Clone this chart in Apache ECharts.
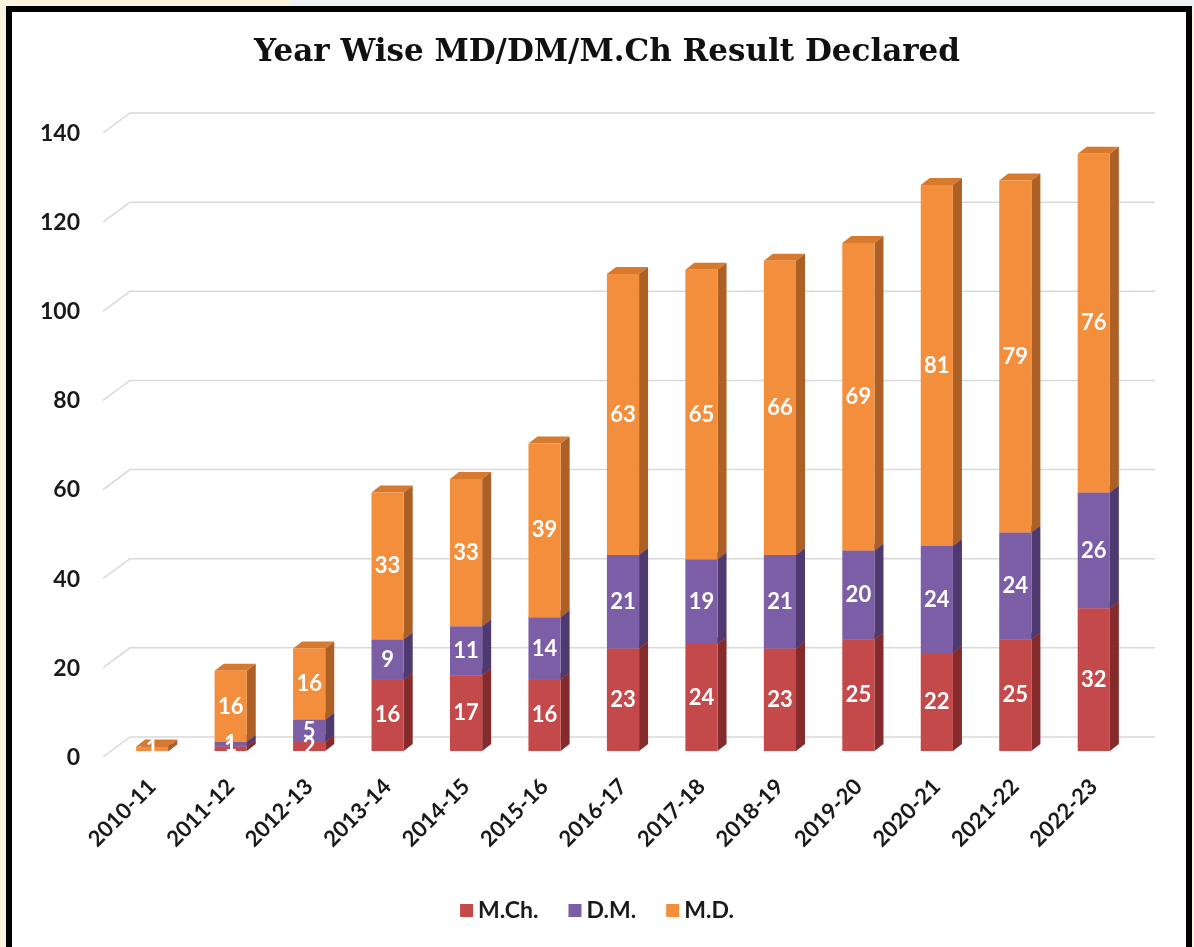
<!DOCTYPE html>
<html>
<head>
<meta charset="utf-8">
<script src="https://cdn.jsdelivr.net/npm/echarts@6/dist/echarts.min.js"></script>
<style>
  html, body { margin: 0; padding: 0; background: #fbf1df; }
  #chart { width: 1194px; height: 947px; }
</style>
</head>
<body>
<div id="chart"></div>
<script>
// --- data ---
const years = ['2010-11', '2011-12', '2012-13', '2013-14', '2014-15', '2015-16', '2016-17',
               '2017-18', '2018-19', '2019-20', '2020-21', '2021-22', '2022-23'];
const mch = [0, 1, 2, 16, 17, 16, 23, 24, 23, 25, 22, 25, 32];
const dm  = [0, 1, 5, 9, 11, 14, 21, 19, 21, 20, 24, 24, 26];
const md  = [1, 16, 16, 33, 33, 39, 63, 65, 66, 69, 81, 79, 76];
const yTicks = [0, 20, 40, 60, 80, 100, 120, 140];

const seriesDefs = [
  { name: 'M.Ch.', values: mch, front: '#c4494a', side: '#862b2b', top: '#a83a3a' },
  { name: 'D.M.',  values: dm,  front: '#7c5ea7', side: '#4e3a6e', top: '#654b8c' },
  { name: 'M.D.',  values: md,  front: '#f38f3c', side: '#ad6026', top: '#d77a2e' }
];

// 3D look
const DX = 9, DY = -7;

const chart = echarts.init(document.getElementById('chart'));

// running base so every segment knows where it starts
const base = years.map(() => 0);
const barSeries = seriesDefs.map((s) => {
  const data = s.values.map((v, i) => {
    const row = [i, base[i], base[i] + v, v];
    base[i] += v;
    return row;
  });
  return {
    name: s.name,
    type: 'custom',
    z: 3,
    itemStyle: { color: s.front },
    encode: { x: 0, y: [1, 2] },
    data: data,
    renderItem: (params, api) => {
      const v = api.value(3);
      const p0 = api.coord([api.value(0), api.value(1)]);
      const p1 = api.coord([api.value(0), api.value(2)]);
      const w = api.size([1, 0])[0] * 0.41;
      const x = p0[0] - w / 2;
      const children = [
        {
          type: 'polygon',
          shape: { points: [[x, p1[1]], [x + DX, p1[1] + DY], [x + w + DX, p1[1] + DY], [x + w, p1[1]]] },
          style: { fill: s.top }
        },
        {
          type: 'polygon',
          shape: { points: [[x + w, p1[1]], [x + w + DX, p1[1] + DY], [x + w + DX, p0[1] + DY], [x + w, p0[1]]] },
          style: { fill: s.side }
        },
        {
          type: 'rect',
          shape: { x: x, y: p1[1], width: w, height: p0[1] - p1[1] },
          style: { fill: s.front }
        }
      ];
      if (v > 0) {
        children.push({
          type: 'text',
          z2: 10,
          style: {
            text: String(v),
            x: p0[0],
            y: (p0[1] + p1[1]) / 2,
            align: 'center',
            verticalAlign: 'middle',
            fill: '#ffffff',
            font: 'bold 22px Lato'
          }
        });
      }
      return { type: 'group', children: children };
    }
  };
});

// back-wall grid lines, drawn from the tick values
const gridSeries = {
  type: 'custom',
  z: 1,
  silent: true,
  encode: { x: 0, y: 1 },
  data: yTicks.map((t) => [0, t]),
  renderItem: (params, api) => {
    const cs = params.coordSys;
    const y = api.coord([0, api.value(1)])[1];
    return {
      type: 'polyline',
      shape: { points: [[cs.x - 10, y + 6], [cs.x + 17, y - 14], [cs.x + cs.width + 22, y - 14]] },
      style: { stroke: '#d9d9d9', lineWidth: 1.5, fill: null }
    };
  }
};

const option = {
  backgroundColor: '#fbf1df',
  animation: false,
  graphic: [
    {
      type: 'rect',
      z: -10,
      shape: { x: 290, y: 0, width: 904, height: 8 },
      style: { fill: '#eef1f4' }
    },
    {
      type: 'rect',
      z: -9,
      shape: { x: 9, y: 9, width: 1180, height: 960 },
      style: { fill: '#ffffff', stroke: '#000000', lineWidth: 6 }
    }
  ],
  title: {
    text: 'Year Wise MD/DM/M.Ch Result Declared',
    left: 602,
    top: 32,
    textAlign: 'center',
    textStyle: {
      fontFamily: 'DejaVu Serif',
      fontWeight: 'bold',
      fontSize: 31,
      color: '#111'
    }
  },
  legend: {
    bottom: 20,
    left: 'center',
    itemWidth: 13,
    itemHeight: 13,
    itemGap: 30,
    icon: 'rect',
    data: seriesDefs.map((s) => s.name),
    textStyle: { fontFamily: 'Lato', fontWeight: 'bold', fontSize: 23, color: '#1a1a1a' }
  },
  grid: { left: 113, right: 61, top: 127, bottom: 196 },
  xAxis: {
    type: 'category',
    data: years,
    axisLine: { show: false },
    axisTick: { show: false },
    axisLabel: {
      rotate: 45,
      margin: 32,
      interval: 0,
      fontFamily: 'Lato',
      fontWeight: 'bold',
      fontSize: 22,
      color: '#1a1a1a'
    }
  },
  yAxis: {
    type: 'value',
    min: 0,
    max: 140,
    interval: 20,
    axisLabel: {
      margin: 33,
      formatter: (v) => '{a|' + v + '}',
      rich: {
        a: {
          fontFamily: 'Lato',
          fontWeight: 'bold',
          fontSize: 23,
          color: '#1a1a1a',
          padding: [13, 0, 0, 0]
        }
      }
    },
    axisLine: { show: false },
    axisTick: { show: false },
    splitLine: { show: false }
  },
  series: [gridSeries].concat(barSeries)
};

chart.setOption(option);
</script>
</body>
</html>
